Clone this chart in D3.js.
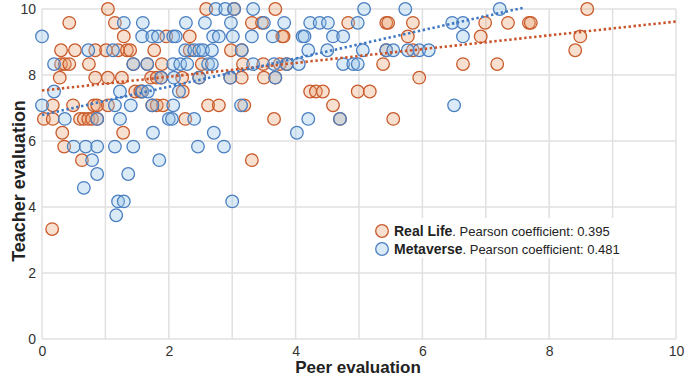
<!doctype html>
<head>
  <meta charset="utf-8">
  <script src="https://cdnjs.cloudflare.com/ajax/libs/d3/7.8.2/d3.min.js"></script>
</head>
<style>
    body { margin: 0; background: white; }
    text { font-family: "Liberation Sans", Arial, sans-serif; }
</style>
<body>
    <div id="container"></div>
    <script>
        // Datos: [peer evaluation, teacher evaluation]
        const realLife = [
            [1.04, 10], [2.59, 10], [3.03, 10], [3.68, 10], [8.60, 10],
            [0.43, 9.58], [1.15, 9.58], [3.31, 9.58], [3.47, 9.58], [4.83, 9.58], [5.43, 9.58], [5.46, 9.58],
            [5.85, 9.58], [6.99, 9.58], [7.35, 9.58], [7.68, 9.58], [7.71, 9.58],
            [1.29, 9.17], [1.96, 9.17], [2.33, 9.17], [3.79, 9.17], [3.81, 9.17], [5.77, 9.17], [6.92, 9.17], [8.49, 9.17],
            [0.30, 8.75], [0.52, 8.75], [0.84, 8.75], [1.01, 8.75], [1.20, 8.75], [1.34, 8.75], [1.39, 8.75],
            [1.77, 8.75], [2.33, 8.75], [2.98, 8.75], [3.15, 8.75], [5.43, 8.75], [5.85, 8.75], [8.41, 8.75],
            [0.30, 8.33], [0.36, 8.33], [0.43, 8.33], [0.74, 8.33], [1.44, 8.33], [1.66, 8.33], [1.89, 8.33],
            [2.52, 8.33], [3.17, 8.33], [3.49, 8.33], [3.75, 8.33], [3.86, 8.33], [5.38, 8.33], [6.64, 8.33], [7.18, 8.33],
            [0.28, 7.92], [0.84, 7.92], [1.04, 7.92], [1.26, 7.92], [1.72, 7.92], [1.81, 7.92], [1.88, 7.92],
            [2.21, 7.92], [2.48, 7.92], [2.97, 7.92], [3.15, 7.92], [3.50, 7.92], [3.68, 7.92], [5.95, 7.92],
            [1.47, 7.5], [1.55, 7.5], [1.58, 7.5], [2.22, 7.5], [4.23, 7.5], [4.32, 7.5], [4.43, 7.5], [4.98, 7.5], [5.17, 7.5],
            [0.17, 7.08], [0.49, 7.08], [0.82, 7.08], [0.87, 7.08], [1.04, 7.08], [1.74, 7.08], [1.81, 7.08],
            [1.91, 7.08], [2.62, 7.08], [2.79, 7.08], [3.19, 7.08], [4.59, 7.08],
            [0.03, 6.67], [0.17, 6.67], [0.60, 6.67], [0.66, 6.67], [0.73, 6.67], [0.79, 6.67], [0.87, 6.67],
            [2.26, 6.67], [3.66, 6.67], [4.70, 6.67], [5.54, 6.67],
            [0.32, 6.25], [1.28, 6.25],
            [0.35, 5.83],
            [0.63, 5.42], [3.31, 5.42],
            [0.16, 3.33]
        ];

        const metaverse = [
            [2.74, 10], [2.89, 10], [3.03, 10], [3.33, 10], [5.08, 10], [5.73, 10], [7.22, 10],
            [1.29, 9.58], [1.59, 9.58], [2.27, 9.58], [2.57, 9.58], [2.98, 9.58], [3.50, 9.58], [3.82, 9.58],
            [4.23, 9.58], [4.38, 9.58], [4.51, 9.58], [4.98, 9.58], [6.47, 9.58], [6.64, 9.58],
            [0.00, 9.17], [1.58, 9.17], [1.74, 9.17], [1.83, 9.17], [2.07, 9.17], [2.11, 9.17], [2.70, 9.17], [2.79, 9.17],
            [3.01, 9.17], [3.31, 9.17], [3.64, 9.17], [4.11, 9.17], [4.14, 9.17], [4.59, 9.17], [4.75, 9.17], [6.64, 9.17],
            [0.73, 8.75], [1.12, 8.75], [2.26, 8.75], [2.40, 8.75], [2.48, 8.75], [2.54, 8.75], [2.68, 8.75], [3.15, 8.75],
            [4.20, 8.75], [4.50, 8.75], [5.06, 8.75], [5.43, 8.75], [5.54, 8.75], [5.77, 8.75], [5.95, 8.75], [6.10, 8.75],
            [0.19, 8.33], [1.44, 8.33], [1.66, 8.33], [2.07, 8.33], [2.18, 8.33], [2.29, 8.33], [2.62, 8.33], [2.68, 8.33],
            [3.33, 8.33], [3.66, 8.33], [3.86, 8.33], [4.05, 8.33], [4.75, 8.33], [4.91, 8.33], [4.98, 8.33],
            [1.88, 7.92], [2.08, 7.92], [2.48, 7.92], [2.97, 7.92], [3.68, 7.92],
            [0.19, 7.5], [1.23, 7.5], [1.58, 7.5], [1.67, 7.5], [2.16, 7.5],
            [0.00, 7.08], [1.15, 7.08], [1.40, 7.08], [1.74, 7.08], [2.07, 7.08], [3.14, 7.08], [6.50, 7.08],
            [0.36, 6.67], [0.87, 6.67], [1.23, 6.67], [2.00, 6.67], [2.05, 6.67], [2.40, 6.67], [4.20, 6.67], [4.70, 6.67],
            [1.75, 6.25], [2.71, 6.25], [4.02, 6.25],
            [0.50, 5.83], [0.69, 5.83], [0.87, 5.83], [1.15, 5.83], [1.44, 5.83], [2.46, 5.83], [2.87, 5.83],
            [0.79, 5.42], [1.85, 5.42],
            [0.87, 5.0], [1.36, 5.0],
            [0.66, 4.58],
            [1.20, 4.17], [1.29, 4.17], [3.00, 4.17],
            [1.17, 3.75]
        ];

        // Líneas de tendencia: [x0, y0, x1, y1]
        const realLifeTrend = [0, 7.53, 10, 9.62];
        const metaverseTrend = [0, 6.79, 7.62, 10.05];

        const pearson = ["0.395", "0.481"];
        const seriesNames = ["Real Life", "Metaverse"];
        const ticksX = [0, 2, 4, 6, 8, 10];
        const ticksY = [0, 2, 4, 6, 8, 10];
        const gridX = d3.range(0, 11);

        const colors = [
            {stroke: '#c95a2b', fill: 'rgba(232,160,110,0.32)', trend: '#c9532a'},
            {stroke: '#4a7fc1', fill: 'rgba(150,195,232,0.35)', trend: '#3f78c3'}
        ];

        const width = 685, height = 377;

        const svg = d3.select('#container')
            .append('svg')
            .attr('width', width)
            .attr('height', height);

        const x = d3.scaleLinear().domain([0, 10]).range([42, 676]);
        const y = d3.scaleLinear().domain([0, 10]).range([339, 9]);

        // Rejilla
        svg.append('g')
            .selectAll('line')
            .data(gridX)
            .enter()
            .append('line')
            .attr('x1', d => x(d)).attr('x2', d => x(d))
            .attr('y1', y(0)).attr('y2', y(10))
            .attr('stroke', '#e0e0e0')
            .attr('stroke-width', 1.5);

        svg.append('g')
            .selectAll('line')
            .data(ticksY)
            .enter()
            .append('line')
            .attr('x1', x(0)).attr('x2', x(10))
            .attr('y1', d => y(d)).attr('y2', d => y(d))
            .attr('stroke', '#e0e0e0')
            .attr('stroke-width', 1.5);

        // Ejes
        const xAxis = svg.append('g')
            .attr('transform', `translate(0,${y(0)})`)
            .call(d3.axisBottom(x).tickValues(ticksX).tickSize(0).tickPadding(7));
        const yAxis = svg.append('g')
            .attr('transform', `translate(${x(0)},0)`)
            .call(d3.axisLeft(y).tickValues(ticksY).tickSize(0).tickPadding(6));
        [xAxis, yAxis].forEach(a => {
            a.select('.domain').remove();
            a.selectAll('text')
                .attr('font-size', 14)
                .attr('fill', '#333')
                .attr('font-family', '"Liberation Sans", Arial, sans-serif');
        });

        // Puntos
        const series = [realLife, metaverse];
        series.forEach((data, i) => {
            svg.append('g')
                .selectAll('circle')
                .data(data)
                .enter()
                .append('circle')
                .attr('cx', d => x(d[0]))
                .attr('cy', d => y(d[1]))
                .attr('r', 6.3)
                .attr('fill', colors[i].fill)
                .attr('stroke', colors[i].stroke)
                .attr('stroke-width', 1.3);
        });

        // Tendencias
        [realLifeTrend, metaverseTrend].forEach((t, i) => {
            svg.append('line')
                .attr('x1', x(t[0])).attr('y1', y(t[1]))
                .attr('x2', x(t[2])).attr('y2', y(t[3]))
                .attr('stroke', colors[i].trend)
                .attr('stroke-width', 2.6)
                .attr('stroke-dasharray', '2.4 2.6');
        });

        // Leyenda
        const legend = svg.append('g');
        legend.append('rect')
            .attr('x', 370).attr('y', 218)
            .attr('width', 244).attr('height', 40)
            .attr('fill', 'white');
        seriesNames.forEach((name, i) => {
            const ly = 231 + i * 18;
            legend.append('circle')
                .attr('cx', 382).attr('cy', ly)
                .attr('r', 6.3)
                .attr('fill', colors[i].fill)
                .attr('stroke', colors[i].stroke)
                .attr('stroke-width', 1.3);
            const t = legend.append('text')
                .attr('x', 394).attr('y', ly + 5)
                .attr('font-size', 13)
                .attr('fill', '#222');
            t.append('tspan').attr('font-weight', 'bold').attr('font-size', 14).text(name);
            t.append('tspan').text('. Pearson coefficient: ' + pearson[i]);
        });

        // Títulos de ejes
        svg.append('text')
            .attr('x', 358).attr('y', 373)
            .attr('text-anchor', 'middle')
            .attr('font-size', 17)
            .attr('font-weight', 'bold')
            .attr('fill', '#222')
            .text('Peer evaluation');

        svg.append('text')
            .attr('transform', 'translate(25,181) rotate(-90)')
            .attr('text-anchor', 'middle')
            .attr('font-size', 18)
            .attr('font-weight', 'bold')
            .attr('fill', '#222')
            .text('Teacher evaluation');
    </script>
</body>
